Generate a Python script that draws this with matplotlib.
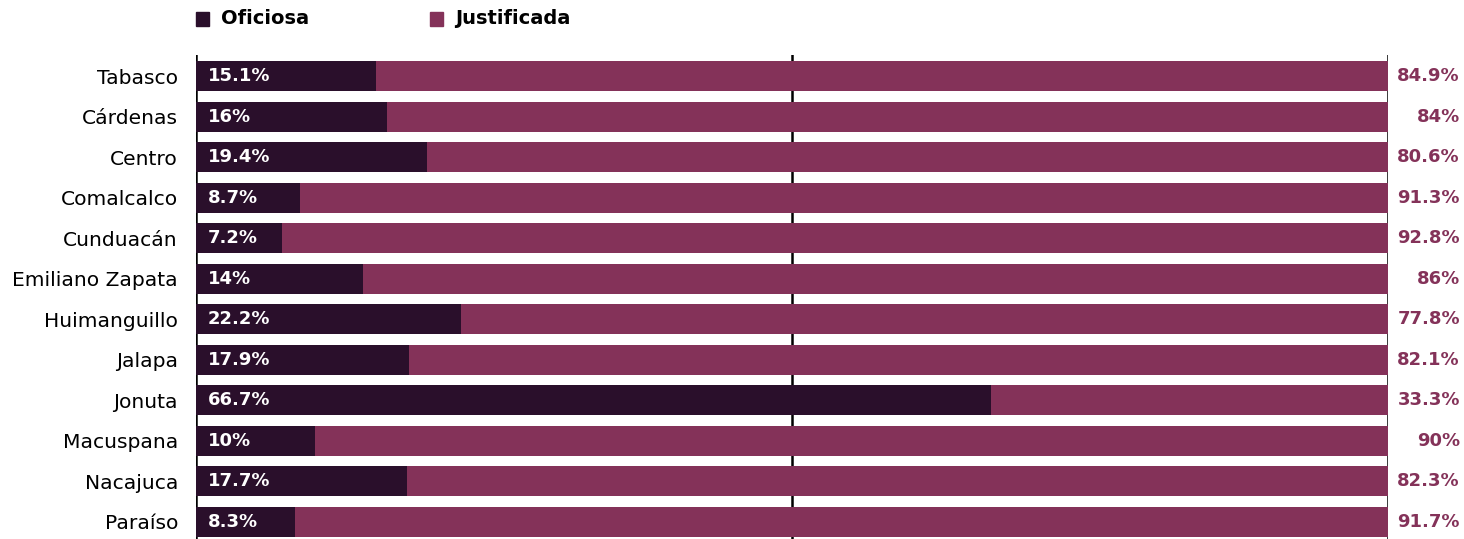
import numpy as np
from matplotlib import pyplot as plt
from matplotlib.patches import Rectangle

municipios = ["Tabasco", "Cárdenas", "Centro", "Comalcalco", "Cunduacán",
              "Emiliano Zapata", "Huimanguillo", "Jalapa", "Jonuta",
              "Macuspana", "Nacajuca", "Paraíso"]
oficiosa = [15.1, 16, 19.4, 8.7, 7.2, 14, 22.2, 17.9, 66.7, 10, 17.7, 8.3]
justificada = [84.9, 84, 80.6, 91.3, 92.8, 86, 77.8, 82.1, 33.3, 90, 82.3, 91.7]

c_of = "#2a0f2b"
c_ju = "#843259"

plt.rcParams['font.family'] = ['DejaVu Sans']

fig = plt.figure(figsize=(14.64, 5.39), dpi=100)
ax = fig.add_axes([196/1464, 0, (1388-196)/1464, 1-55/539])

y = np.arange(len(municipios))
ax.barh(y, oficiosa, height=0.74, color=c_of, zorder=2)
ax.barh(y, justificada, left=oficiosa, height=0.74, color=c_ju, zorder=2)

for xv in [0, 50, 100]:
    ax.axvline(xv, color="black", linewidth=1.8, zorder=1)

for i in range(len(municipios)):
    ax.text(1.0, y[i], f"{oficiosa[i]:g}%", color="white", fontsize=13,
            fontweight="bold", va="center", ha="left", zorder=3)
    ax.text(1.0 + 72/1192, y[i], f"{justificada[i]:g}%", color=c_ju,
            fontsize=13, fontweight="bold", va="center", ha="right",
            transform=ax.get_yaxis_transform(), zorder=3)

ax.set_xlim(0, 100)
ax.set_ylim(11.42, -0.52)
ax.set_yticks(y)
ax.set_yticklabels(municipios, fontsize=14.6)
ax.tick_params(axis="y", length=0, pad=13)
ax.set_xticks([])
for s in ax.spines.values():
    s.set_visible(False)

# leyenda
fig.patches.append(Rectangle((196/1464, 1-26/539), 13/1464, 14/539,
                             transform=fig.transFigure, color=c_of))
fig.text(221/1464, 1-19/539, "Oficiosa", fontsize=14, fontweight="bold",
         va="center", ha="left")
fig.patches.append(Rectangle((430/1464, 1-26/539), 13/1464, 14/539,
                             transform=fig.transFigure, color=c_ju))
fig.text(455/1464, 1-19/539, "Justificada", fontsize=14, fontweight="bold",
         va="center", ha="left")

fig.savefig("out.png", dpi=100)
